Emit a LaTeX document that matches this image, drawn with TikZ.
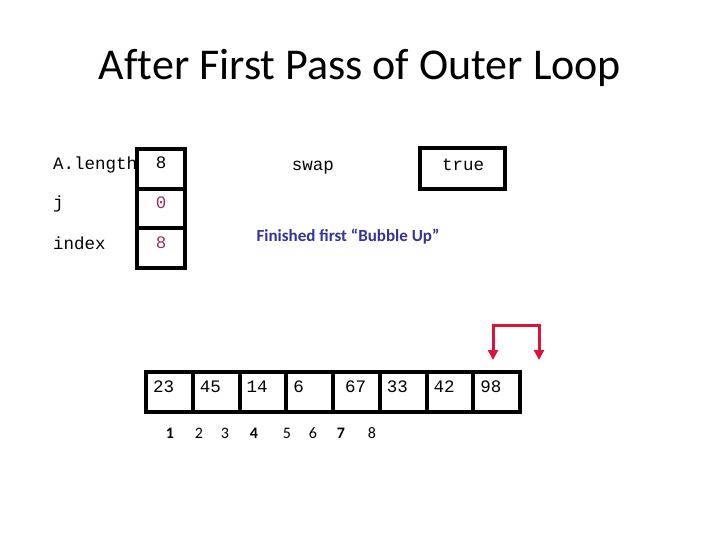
\documentclass[tikz,border=0pt]{standalone}
\usepackage{fontspec}
\setmainfont{Carlito}
\setmonofont{Liberation Mono}
\usetikzlibrary{arrows.meta}

\definecolor{valred}{RGB}{153,51,102}
\definecolor{noteblue}{RGB}{51,51,153}
\definecolor{swapred}{RGB}{220,20,60}

\newcommand{\monotext}{\ttfamily\fontsize{17.5}{20}\selectfont}

\tikzset{
  varbox/.style={draw,line width=4pt,minimum width=48pt,inner sep=0pt},
  cell/.style={draw,line width=4pt,minimum width=46.75pt,minimum height=40pt,
    anchor=north west,inner sep=0pt},
  code/.style={font=\monotext,inner sep=0pt},
  idx/.style={inner sep=0pt,anchor=base}
}

\begin{document}
\begin{tikzpicture}[x=1pt,y=-1pt]
  \useasboundingbox (0,0) rectangle (720,540);

  \node (title) at (360,68) {\fontsize{44}{48}\selectfont Af\kern0pt ter First Pass of Outer Loop};

  % variables
  \node[code,anchor=west] (lenlbl) at (53,165) {A.length};
  \node[code,anchor=west] (jlbl) at (53,204) {j};
  \node[code,anchor=west] (idxlbl) at (53,243) {index};

  \node[varbox,minimum height=40pt] (lenbox) at (161,169) {};
  \node[varbox,minimum height=39pt] (jbox) at (161,208.5) {};
  \node[varbox,minimum height=40pt] (idxbox) at (161,248) {};
  \node[code] (lenval) at (161,163) {8};
  \node[code,text=valred] (jval) at (161,203) {0};
  \node[code,text=valred] (idxval) at (161,243) {8};

  \node[code] (swaplbl) at (313,168) {swap};
  \node[draw,line width=4pt,minimum width=85pt,minimum height=41pt] (swapbox) at (462.5,168.5) {};
  \node[code] (swapval) at (463,165) {true};

  \node[text=noteblue,font=\bfseries\fontsize{17}{19}\selectfont] (note) at (348,237) {Finished first “Bubble Up”};

  % the array
  \foreach \v/\s [count=\i] in {23/0,45/0,14/0,6/0,67/5,33/0,42/0,98/0} {
    \node[cell] (c\i) at ({144+46.75*(\i-1)},370) {};
    \node[code,anchor=west] (v\i) at ([xshift={9+\s},yshift=5]c\i.west) {\v};
  }

  \foreach \n/\x/\w in {1/170/b,2/199/m,3/225/m,4/254/b,5/287/m,6/313/m,7/341/b,8/372/m}
    \node[idx,font={\fontsize{16}{18}\fontseries{\w}\selectfont}] (i\n) at (\x,438) {\n};

  % swap arrow
  \coordinate (arrL) at (493,360);
  \coordinate (arrR) at (539,360);
  \draw[swapred,line width=3pt,{Triangle[length=10pt,width=10pt]}-{Triangle[length=10pt,width=10pt]}]
    (arrL) -- (493,325) -- (539,325) -- (arrR);
\end{tikzpicture}
\end{document}
